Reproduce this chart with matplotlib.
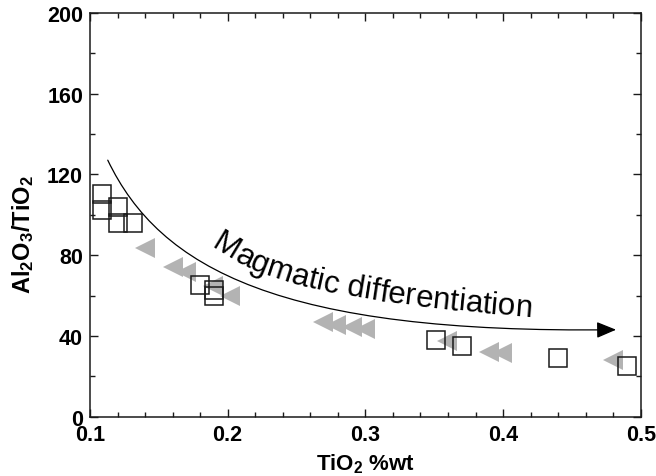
import numpy as np
import matplotlib
matplotlib.use('Agg')
import matplotlib.pyplot as plt
from matplotlib.patches import FancyArrowPatch
from matplotlib.path import Path
from matplotlib.bezier import BezierSegment
from matplotlib.font_manager import FontProperties, findfont, get_font
from matplotlib.ticker import MultipleLocator

plt.rcParams['font.family'] = ['Liberation Sans', 'DejaVu Sans']
plt.rcParams['mathtext.fontset'] = 'custom'
plt.rcParams['mathtext.rm'] = 'Liberation Sans'
plt.rcParams['mathtext.bf'] = 'Liberation Sans:bold'

# Open squares
sq_tio2 = [0.109, 0.109, 0.120, 0.120, 0.131, 0.180, 0.190, 0.190,
           0.351, 0.370, 0.440, 0.490]
sq_ratio = [110.4, 102.4, 103.9, 96.0, 96.0, 65.3, 62.8, 59.8,
            38.0, 35.0, 29.1, 25.2]

# Grey triangles
tri_tio2 = [0.140, 0.1605, 0.170, 0.189, 0.202, 0.269, 0.279, 0.290,
            0.300, 0.359, 0.390, 0.399, 0.480]
tri_ratio = [83.4, 74.0, 71.9, 64.8, 60.0, 46.9, 45.4, 44.4,
             43.4, 37.5, 32.1, 31.6, 28.2]

# Trend arrow: cubic bezier control points (data units)
trend_x = [0.1129, 0.1508, 0.2380, 0.4821]
trend_y = [127.1, 73.2, 41.0, 43.1]

# Baseline of the curved label: cubic bezier control points (data units)
label_text = 'Magmatic differentiation'
label_x = [0.1879, 0.2235, 0.2671, 0.4189]
label_y = [84.6, 68.2, 58.3, 49.9]
label_size = 22.5

fig = plt.figure(figsize=(6.56, 4.77), dpi=100)
ax = fig.add_axes([0.1372, 0.1243, 0.8395, 0.8463])
ax.set_xlim(0.1, 0.5)
ax.set_ylim(0, 200)

ax.plot(tri_tio2, tri_ratio, linestyle='none', marker='<', markersize=14.5,
        color='#b3b3b3', markeredgewidth=0, zorder=2)
ax.plot(sq_tio2, sq_ratio, linestyle='none', marker='s', markersize=13.5,
        markerfacecolor='none', markeredgecolor='#1a1a1a',
        markeredgewidth=1.1, zorder=3)

# Curved arrow
path = Path(list(zip(trend_x, trend_y)),
            [Path.MOVETO, Path.CURVE4, Path.CURVE4, Path.CURVE4])
arrow = FancyArrowPatch(path=path, transform=ax.transData,
                        arrowstyle='-|>,head_length=0.6,head_width=0.25',
                        mutation_scale=20, color='black', linewidth=0.9,
                        zorder=4)
ax.add_patch(arrow)

# Label set letter by letter along its baseline curve
ctrl = ax.transData.transform(np.column_stack([label_x, label_y]))
seg = BezierSegment(ctrl)
pts = seg(np.linspace(0, 1, 600))
arc = np.concatenate([[0], np.cumsum(np.hypot(*np.diff(pts, axis=0).T))])
font = get_font(findfont(FontProperties(family='Liberation Sans')))
font.set_size(label_size, fig.dpi)
adv = [font.load_char(ord(c)).linearHoriAdvance / 65536 for c in label_text]
start = np.concatenate([[0], np.cumsum(adv)[:-1]])
inv = ax.transData.inverted()
for c, s0, w in zip(label_text, start, adv):
    if c == ' ':
        continue
    s = s0 + w / 2
    px = np.interp(s, arc, pts[:, 0])
    py = np.interp(s, arc, pts[:, 1])
    i = min(np.searchsorted(arc, s), len(arc) - 1)
    i0, i1 = max(i - 3, 0), min(i + 3, len(arc) - 1)
    ang = np.degrees(np.arctan2(pts[i1, 1] - pts[i0, 1], pts[i1, 0] - pts[i0, 0]))
    dx, dy = inv.transform((px, py))
    ax.text(dx, dy, c, fontsize=label_size, rotation=ang,
            rotation_mode='anchor', ha='center', va='baseline', zorder=5)

ax.xaxis.set_major_locator(MultipleLocator(0.1))
ax.xaxis.set_minor_locator(MultipleLocator(0.02))
ax.yaxis.set_major_locator(MultipleLocator(40))
ax.yaxis.set_minor_locator(MultipleLocator(20))
ax.set_xticks([0.1, 0.2, 0.3, 0.4, 0.5])
ax.set_xticklabels(['0.1', '0.2', '0.3', '0.4', '0.5'])

ax.tick_params(which='both', direction='in', top=True, right=True,
               width=1.0, color='#1a1a1a')
ax.tick_params(which='major', length=6)
ax.tick_params(which='minor', length=3.8)
ax.tick_params(axis='x', which='major', pad=5)
ax.tick_params(axis='y', which='major', pad=5)
for lab in ax.get_xticklabels() + ax.get_yticklabels():
    lab.set_fontsize(15.5)
    lab.set_fontweight('bold')
for sp in ax.spines.values():
    sp.set_linewidth(1.1)
    sp.set_color('#1a1a1a')

ax.set_xlabel(r'$\mathbf{TiO_2}$ %wt', fontsize=16, fontweight='bold')
ax.set_ylabel(r'$\mathbf{Al_2O_3/TiO_2}$', fontsize=17)
ax.xaxis.set_label_coords(0.5, -0.085)
ax.yaxis.set_label_coords(-0.098, 0.4526)

fig.savefig('out.png', dpi=100)
